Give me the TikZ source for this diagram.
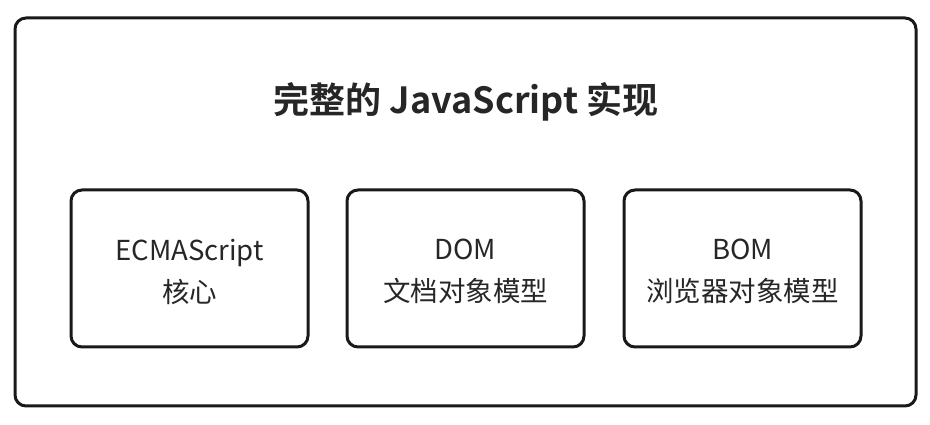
\documentclass[tikz,border=0pt]{standalone}
\usepackage{fontspec}
\setmainfont{Noto Sans CJK SC}
\newfontfamily\cjkbold{Noto Sans CJK SC Bold}
\begin{document}
\begin{tikzpicture}[x=1pt,y=1pt,
  frame/.style={draw=black!90,line width=3pt,rounded corners=11pt},
  part/.style={draw=black!90,line width=3pt,rounded corners=11pt,minimum width=237pt,minimum height=157pt},
  label/.style={align=center,font=\fontsize{27.5}{42}\selectfont,text=black!85},
  title/.style={font=\cjkbold\fontsize{36}{40}\selectfont,text=black!85}]
\useasboundingbox (0,0) rectangle (930,425);
\node[frame,minimum width=901pt,minimum height=388pt] (outer) at (465.5,213) {};
\node[title] (t) at (466,323) {完整的 JavaScript 实现};
\node[part] (ecma) at (189.5,156.5) {};
\node[part] (dom) at (465.5,156.5) {};
\node[part] (bom) at (742.5,156.5) {};
\node[label] (ecmat) at ([yshift=-3pt]ecma.center) {ECMAScript\\核心};
\node[label] (domt) at ([yshift=-3pt]dom.center) {DOM\\文档对象模型};
\node[label] (bomt) at ([yshift=-3pt]bom.center) {BOM\\浏览器对象模型};
\end{tikzpicture}
\end{document}
